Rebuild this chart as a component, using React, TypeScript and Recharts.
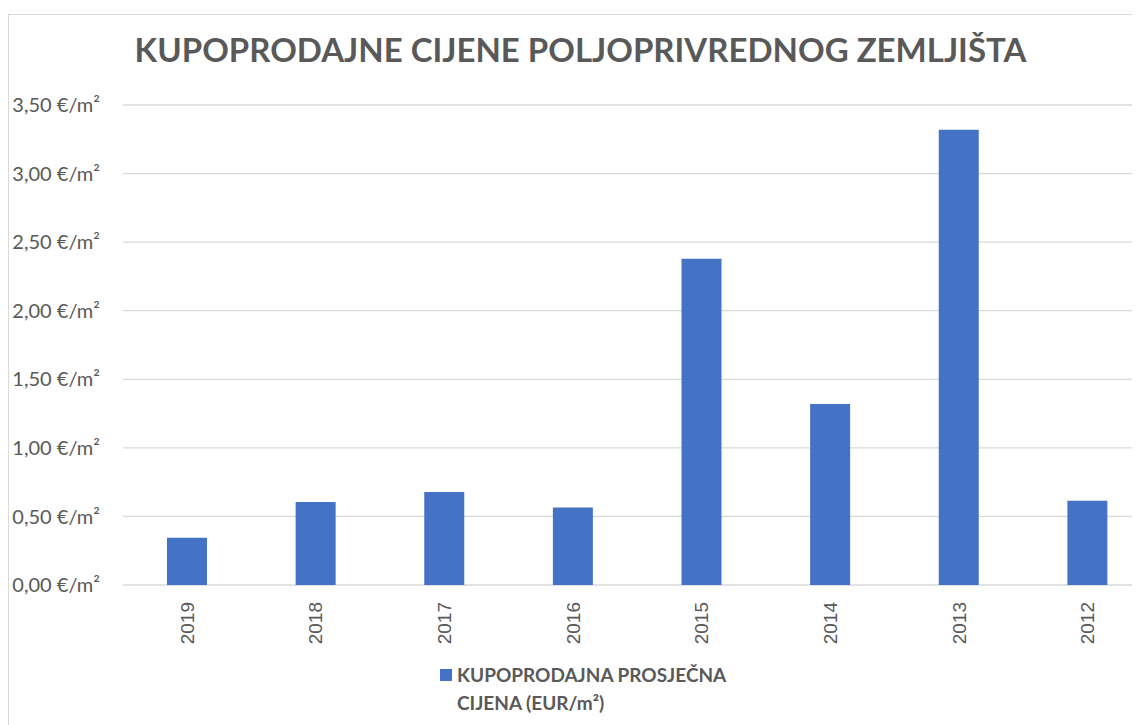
import { BarChart, Bar, XAxis, YAxis, CartesianGrid, Legend } from 'recharts';

const years = ['2019', '2018', '2017', '2016', '2015', '2014', '2013', '2012'];
const prices = [0.345, 0.605, 0.678, 0.566, 2.378, 1.32, 3.32, 0.615];
const yTicks = [0, 0.5, 1, 1.5, 2, 2.5, 3, 3.5];

const seriesName = 'KUPOPRODAJNA PROSJEČNA CIJENA (EUR/m²)';
const chartTitle = 'KUPOPRODAJNE CIJENE POLJOPRIVREDNOG ZEMLJIŠTA';

const data = years.map((year, i) => ({ year, price: prices[i] }));

const textColor = '#595959';
const barColor = '#4472C4';
const font = 'Lato, "Open Sans", sans-serif';

const formatEur = (v: number) => `${v.toFixed(2).replace('.', ',')} €/m²`;

function YearTick(props: any) {
  const { x, y, payload } = props;
  return (
    <text
      x={x}
      y={y}
      transform={`rotate(-90 ${x} ${y})`}
      textAnchor="end"
      dominantBaseline="central"
      fill={textColor}
      fontSize={19}
      fontFamily='"Liberation Sans", Arial, sans-serif'
    >
      {payload.value}
    </text>
  );
}

function renderLegend() {
  return (
    <div style={{ display: 'flex', alignItems: 'flex-start', fontFamily: font }}>
      <div style={{ width: 12, height: 12, background: barColor, marginTop: 8, marginRight: 5, flexShrink: 0 }} />
      <div style={{ width: 300, fontSize: 19, fontWeight: 700, lineHeight: '28px', color: textColor }}>
        KUPOPRODAJNA PROSJEČNA
        <br />
        CIJENA (EUR/m²)
      </div>
    </div>
  );
}

export default function App() {
  return (
    <div style={{ paddingTop: 6, width: 1132, height: 711, overflow: 'hidden' }}>
      <div
        style={{
          position: 'relative',
          width: 1160,
          height: 740,
          borderTop: '1px solid #d9d9d9',
          borderLeft: '1px solid #d9d9d9',
          background: '#fff',
        }}
      >
        <div
          style={{
            position: 'absolute',
            top: 14,
            left: 0,
            width: 1143,
            textAlign: 'center',
            fontFamily: font,
            fontWeight: 700,
            fontSize: 33,
            color: textColor,
          }}
        >
          {chartTitle}
        </div>
        <BarChart width={1143} height={710} data={data} margin={{ top: 90, right: 0, bottom: 80, left: 0 }}>
          <CartesianGrid vertical={false} stroke="#d9d9d9" strokeWidth={1.3} />
          <XAxis
            dataKey="year"
            axisLine={false}
            tickLine={false}
            tickSize={0}
            tickMargin={17}
            interval={0}
            height={60}
            tick={<YearTick />}
          />
          <YAxis
            domain={[0, 3.5]}
            ticks={yTicks}
            width={114}
            axisLine={false}
            tickLine={false}
            tickSize={0}
            tickMargin={23}
            tickFormatter={formatEur}
            tick={{ fill: textColor, fontSize: 20, fontFamily: font }}
          />
          <Legend
            layout="horizontal"
            verticalAlign="middle"
            content={renderLegend}
            wrapperStyle={{ left: 431, top: 646, width: 330, height: 60 }}
          />
          <Bar dataKey="price" name={seriesName} fill={barColor} barSize={40} isAnimationActive={false} />
        </BarChart>
      </div>
    </div>
  );
}
